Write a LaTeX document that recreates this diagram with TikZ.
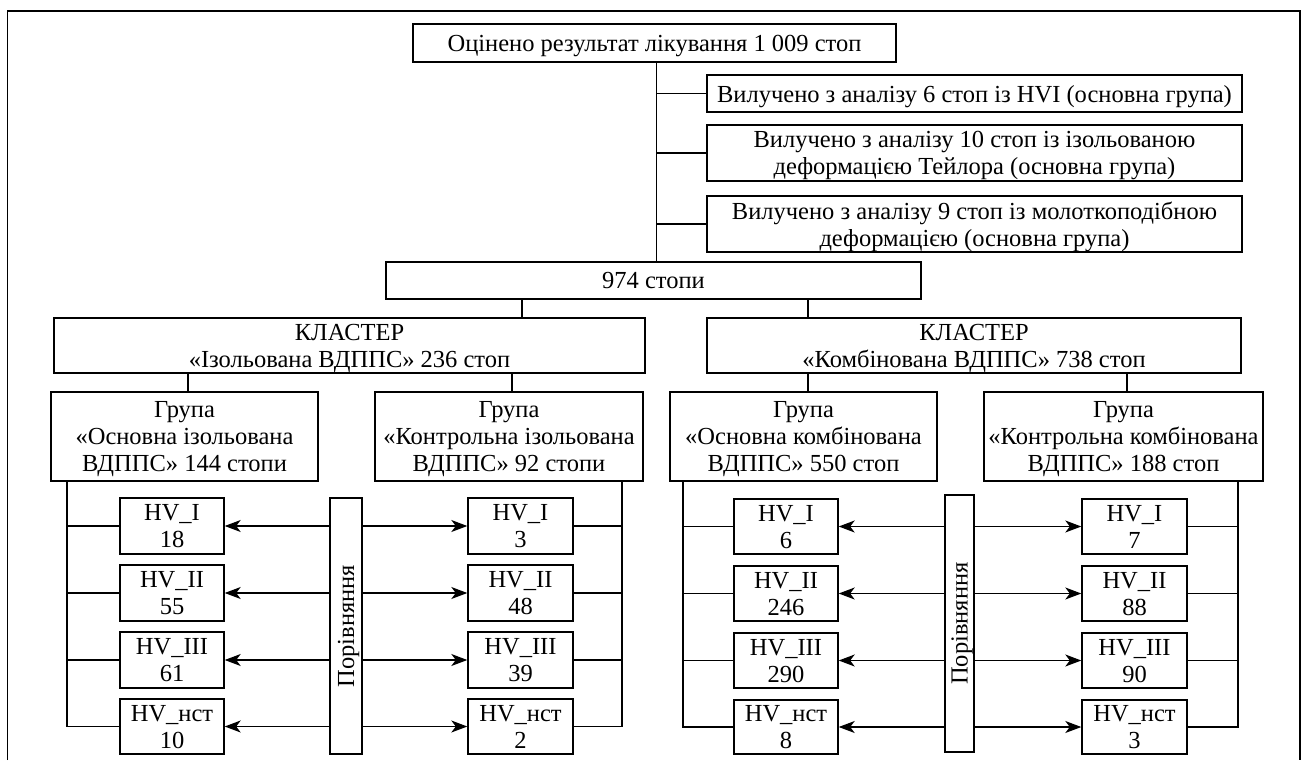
\documentclass[tikz,border=0pt]{standalone}
\usepackage{fontspec}
\setmainfont{Liberation Serif}
\usetikzlibrary{arrows.meta}
\newcommand{\boxat}[6]{\node[box, minimum width={#4-#2}, minimum height={#5-#3}] (#1) at ({(#2+#4)/2},{(#3+#5)/2}) {#6};}
\tikzset{
  txt/.style={font=\fontsize{24.5}{27}\selectfont},
  box/.style={txt, draw, line width=1.4pt, inner sep=0pt, align=center, text depth=0pt},
  conn/.style={line width=1.2pt},
  arr/.style={line width=1.2pt, -{Stealth[length=16pt,width=12pt,inset=4.5pt]}},
  frame/.style={line width=1.6pt}
}
\begin{document}
\begin{tikzpicture}[x=1pt,y=-1pt]
\useasboundingbox (0,0) rectangle (1303,760);
\draw[frame] (7.5,760) -- (7.5,11) -- (1300,11) -- (1300,760);
% top
\boxat{top}{413}{24}{896}{62}{Оцінено результат лікування 1 009 стоп}
\boxat{ex1}{707}{75}{1242}{112}{Вилучено з аналізу 6 стоп із HVI (основна група)}
\boxat{ex2}{707}{125}{1242}{181}{Вилучено з аналізу 10 стоп із ізольованою\\деформацією Тейлора (основна група)}
\boxat{ex3}{707}{196}{1242}{252}{Вилучено з аналізу 9 стоп із молоткоподібною\\деформацією (основна група)}
\boxat{all}{386}{262}{921}{299}{974 стопи}
\coordinate (t) at (656.5,0);
\draw[conn] (top.south -| t) -- (all.north -| t);
\foreach \e in {ex1,ex2,ex3} \draw[conn] (\e.west -| t) -- (\e.west);
% clusters
\boxat{clA}{54}{318}{645}{373}{КЛАСТЕР\\«Ізольована ВДППС» 236 стоп}
\boxat{clC}{707}{318}{1241}{373}{КЛАСТЕР\\«Комбінована ВДППС» 738 стоп}
\coordinate (cA) at (522,0);
\coordinate (cC) at (808,0);
\draw[conn] (all.south -| cA) -- (clA.north -| cA);
\draw[conn] (all.south -| cC) -- (clC.north -| cC);
% groups
\boxat{gA}{51}{392}{318}{481}{Група\\«Основна ізольована\\ВДППС» 144 стопи}
\boxat{gB}{375}{392}{643}{481}{Група\\«Контрольна ізольована\\ВДППС» 92 стопи}
\boxat{gC}{670}{392}{937}{481}{Група\\«Основна комбінована\\ВДППС» 550 стоп}
\boxat{gD}{984}{392}{1263}{481}{Група\\«Контрольна комбінована\\ВДППС» 188 стоп}
\coordinate (kA) at (188,0);
\coordinate (kB) at (512,0);
\coordinate (kC) at (808,0);
\coordinate (kD) at (1127,0);
\draw[conn] (clA.south -| kA) -- (gA.north -| kA);
\draw[conn] (clA.south -| kB) -- (gB.north -| kB);
\draw[conn] (clC.south -| kC) -- (gC.north -| kC);
\draw[conn] (clC.south -| kD) -- (gD.north -| kD);
% HV boxes
\boxat{a1}{120}{498}{224}{554}{HV\_I\\18}
\boxat{a2}{120}{565}{224}{621}{HV\_II\\55}
\boxat{a3}{120}{632}{224}{688}{HV\_III\\61}
\boxat{a4}{120}{699}{224}{754}{HV\_нст\\10}
\boxat{b1}{468}{498}{573}{554}{HV\_I\\3}
\boxat{b2}{468}{565}{573}{621}{HV\_II\\48}
\boxat{b3}{468}{632}{573}{688}{HV\_III\\39}
\boxat{b4}{468}{699}{573}{754}{HV\_нст\\2}
\boxat{c1}{734}{499}{838}{554}{HV\_I\\6}
\boxat{c2}{734}{566}{838}{621}{HV\_II\\246}
\boxat{c3}{734}{633}{838}{688}{HV\_III\\290}
\boxat{c4}{734}{700}{838}{754}{HV\_нст\\8}
\boxat{d1}{1082}{499}{1187}{554}{HV\_I\\7}
\boxat{d2}{1082}{566}{1187}{621}{HV\_II\\88}
\boxat{d3}{1082}{633}{1187}{688}{HV\_III\\90}
\boxat{d4}{1082}{700}{1187}{754}{HV\_нст\\3}
% comparison bars
\boxat{barA}{330}{498}{362}{754}{}
\boxat{barC}{945}{495}{974}{752}{}
\node[txt, rotate=90, inner sep=0pt, text depth=0pt] (lblA) at (barA.center) {Порівняння};
\node[txt, rotate=90, inner sep=0pt, text depth=0pt] (lblC) at (barC.center) {Порівняння};
% side lines
\coordinate (sA) at (67,0);
\coordinate (sB) at (622,0);
\coordinate (sC) at (683,0);
\coordinate (sD) at (1238,0);
\draw[conn] (gA.south -| sA) -- (sA |- a4.west) -- (a4.west);
\draw[conn] (gB.south -| sB) -- (sB |- b4.east) -- (b4.east);
\draw[conn] (gC.south -| sC) -- (sC |- c4.west) -- (c4.west);
\draw[conn] (gD.south -| sD) -- (sD |- d4.east) -- (d4.east);
\foreach \i in {1,2,3}{
  \draw[conn] (sA |- a\i.west) -- (a\i.west);
  \draw[conn] (sB |- b\i.east) -- (b\i.east);
  \draw[conn] (sC |- c\i.west) -- (c\i.west);
  \draw[conn] (sD |- d\i.east) -- (d\i.east);
}
% arrows
\foreach \i in {1,2,3,4}{
  \draw[arr] (barA.west |- a\i.east) -- (a\i.east);
  \draw[arr] (barA.east |- b\i.west) -- (b\i.west);
  \draw[arr] (barC.west |- c\i.east) -- (c\i.east);
  \draw[arr] (barC.east |- d\i.west) -- (d\i.west);
}
\end{tikzpicture}
\end{document}
